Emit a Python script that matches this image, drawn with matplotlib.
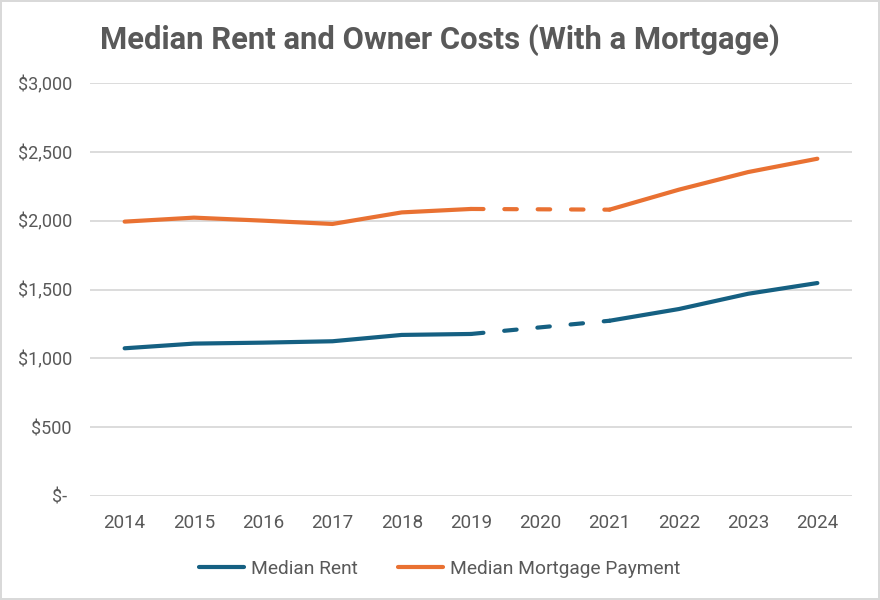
"""Median rent vs. median mortgage payment line chart."""

import numpy as np
import matplotlib
matplotlib.use("Agg")
import matplotlib.pyplot as plt
from matplotlib.ticker import FuncFormatter

years = ["2014", "2015", "2016", "2017", "2018", "2019", "2020",
         "2021", "2022", "2023", "2024"]
# 2020 has no published value; the gap is bridged with a dashed line
median_rent = [1073, 1107, 1114, 1124, 1170, 1177, np.nan,
               1273, 1358, 1469, 1547]
median_mortgage = [1993, 2022, 2000, 1976, 2060, 2085, np.nan,
                   2080, 2225, 2353, 2450]
y_ticks = [0, 500, 1000, 1500, 2000, 2500, 3000]

BLUE = "#156082"
ORANGE = "#E97132"
GREY = "#595959"
GRID = "#D9D9D9"

plt.rcParams["font.family"] = ["Roboto", "DejaVu Sans"]

fig = plt.figure(figsize=(8.8, 6), dpi=100)
fig.patch.set_edgecolor(GRID)
fig.patch.set_linewidth(1.5)
ax = fig.add_axes([90 / 880, 104 / 600, 762 / 880, 413 / 600])

x = np.arange(len(years))


def draw_series(values, color, label):
    vals = np.array(values, dtype=float)
    ax.plot(x, vals, color=color, lw=3, solid_capstyle="round",
            label=label, zorder=3)
    # dashed bridge across missing points
    ok = np.where(~np.isnan(vals))[0]
    for a, b in zip(ok[:-1], ok[1:]):
        if b - a > 1:
            ax.plot([x[a], x[b]], [vals[a], vals[b]], color=color, lw=3,
                    dashes=(3.0, 5.0), dash_capstyle="round", zorder=3)


draw_series(median_rent, BLUE, "Median Rent")
draw_series(median_mortgage, ORANGE, "Median Mortgage Payment")

ax.set_xlim(-0.5, len(years) - 0.5)
ax.set_ylim(0, 3000)
ax.set_xticks(x)
ax.set_xticklabels(years)
ax.set_yticks(y_ticks)
ax.yaxis.set_major_formatter(
    FuncFormatter(lambda v, _: "$- " if v == 0 else f"${v:,.0f}"))
ax.tick_params(axis="x", length=0, labelsize=13.5, colors=GREY, pad=13)
ax.tick_params(axis="y", length=0, labelsize=13, colors=GREY, pad=13)
ax.grid(axis="y", color=GRID, lw=1.3)
ax.set_axisbelow(True)
for s in ax.spines.values():
    s.set_visible(False)

fig.text(0.5, 0.933, "Median Rent and Owner Costs (With a Mortgage)",
         ha="center", va="center", fontsize=22.3, fontweight="bold",
         color=GREY)

handles, labels = ax.get_legend_handles_labels()
fig.legend(handles, labels, loc="center", bbox_to_anchor=(0.5, 0.052),
           ncol=2, frameon=False, fontsize=13.8, labelcolor=GREY,
           handlelength=2.35, columnspacing=2.1, handletextpad=0.36)

plt.savefig("out.png", dpi=100)
plt.close()
